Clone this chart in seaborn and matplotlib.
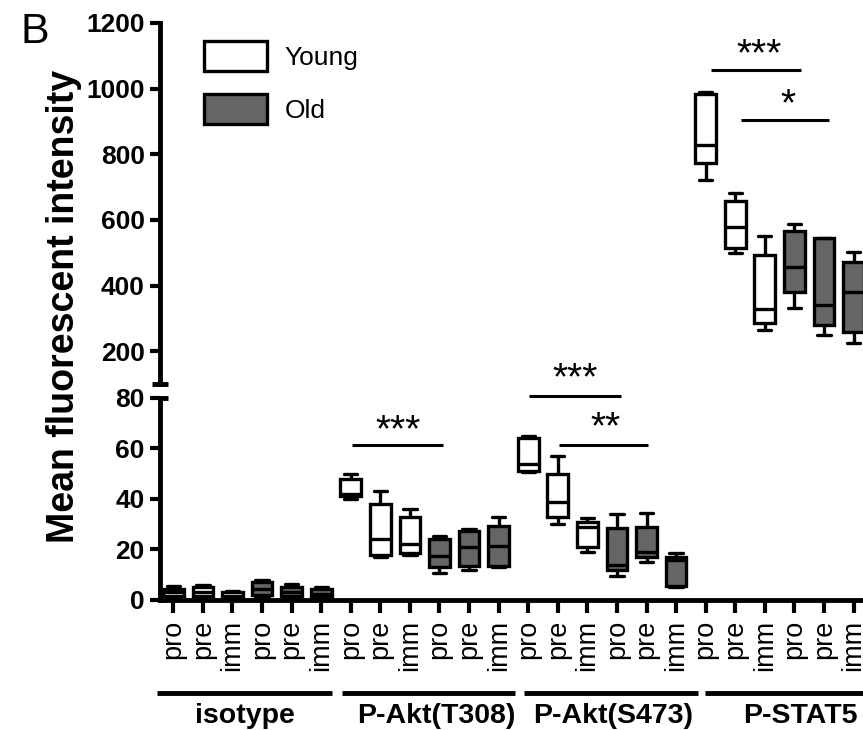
import numpy as np
import pandas as pd
import matplotlib
matplotlib.use("Agg")
import matplotlib.pyplot as plt
import matplotlib.transforms as mtransforms
from matplotlib.patches import Patch
import seaborn as sns

# ---------------- data (five-number summaries) -------------
groups = ["isotype", "P-Akt(T308)", "P-Akt(S473)", "P-STAT5"]
stages = ["pro", "pre", "imm", "pro", "pre", "imm"]
ages = ["Young", "Young", "Young", "Old", "Old", "Old"]

# each row: [min, q1, median, q3, max]
isotype = [[0.8, 1.5, 3.0, 4.5, 5.5],
           [1.0, 1.5, 3.0, 5.0, 6.0],
           [0.5, 0.8, 1.5, 3.0, 3.5],
           [1.0, 2.0, 4.5, 7.0, 8.0],
           [0.8, 1.5, 3.0, 5.0, 6.4],
           [0.8, 1.2, 2.5, 4.2, 5.0]]
akt_t308 = [[40, 41, 42, 48, 50],
            [17, 18, 24, 38, 43],
            [18, 18.5, 22, 33, 36],
            [10.5, 13, 17.5, 24, 25.5],
            [12, 13.5, 21, 27.5, 28],
            [13, 13.5, 21.5, 29.5, 33]]
akt_s473 = [[50.5, 51, 54, 64, 65],
            [30, 33, 39, 50, 57],
            [19, 21, 29, 31, 32.5],
            [9.5, 12, 14, 28.5, 34],
            [15, 17, 19, 29, 34.5],
            [5, 5.5, 16, 17, 18.5]]
stat5 = [[721, 773, 828, 985, 990],
         [498, 514, 578, 657, 682],
         [264, 285, 328, 493, 551],
         [331, 380, 456, 566, 587],
         [249, 279, 340, 544, 545],
         [224, 258, 380, 472, 502]]

# significance annotations: (x_start, x_end, y_line, text, x_text, y_text)
sig_lo = [(6.04, 9.12, 61.2, "***", 7.6, 67.0),
          (12.02, 15.14, 80.8, "***", 13.6, 87.5),
          (13.04, 16.05, 61.2, "**", 14.6, 68.0)]
sig_hi = [(18.18, 21.22, 1057, "***", 19.8, 1102),
          (19.19, 22.17, 904, "*", 20.8, 950)]

# group underline spans (data x units) and label centres
group_spans = [(-0.55, 5.37), (5.70, 11.55), (11.86, 17.74), (17.98, 23.6)]
group_centers = [2.43, 8.88, 14.87, 21.19]

# ---------------- build tidy frame ----------------
rows = []
for g_i, stats in enumerate([isotype, akt_t308, akt_s473, stat5]):
    for b_i, vals in enumerate(stats):
        for v in vals:
            rows.append(dict(pos=g_i * 6 + b_i, value=v, age=ages[b_i]))
df = pd.DataFrame(rows)

sns.set_style("ticks")
plt.rcParams["font.family"] = ["Liberation Sans", "DejaVu Sans"]
for k in ("text.color", "axes.labelcolor", "xtick.color", "ytick.color", "axes.edgecolor"):
    plt.rcParams[k] = "black"

fig = plt.figure(figsize=(8.63, 7.30), dpi=100)
ax_lo = fig.add_axes([0.1854, 0.1781, 0.8146, 0.2767])
ax_hi = fig.add_axes([0.1854, 0.474, 0.8146, 0.4945])

palette = {"Young": "white", "Old": "#656565"}
LW = 2.4
for ax in (ax_lo, ax_hi):
    sns.boxplot(data=df, x="pos", y="value", hue="age", hue_order=["Young", "Old"],
                palette=palette, dodge=False, whis=(0, 100), width=0.7,
                linecolor="black", linewidth=LW, showfliers=False, legend=False,
                saturation=1, ax=ax, capwidths=0.45)
    ax.patch.set_visible(False)
    ax.set_xlim(-0.45, 23.32)
    ax.set_xlabel("")
    ax.set_ylabel("")
    for s in ("top", "right"):
        ax.spines[s].set_visible(False)
    ax.spines["left"].set_linewidth(3.5)
    ax.spines["bottom"].set_linewidth(3.5)
    ax.tick_params(axis="y", direction="out", length=7, width=3, labelsize=19, pad=4)

ax_lo.set_ylim(0, 80)
ax_lo.set_yticks(range(0, 81, 20))
ax_hi.set_ylim(100, 1200)
ax_hi.set_yticks(range(200, 1201, 200))
ax_hi.spines["bottom"].set_visible(False)
ax_hi.set_xticks([])

ax_lo.set_xticks(range(24))
ax_lo.set_xticklabels(stages * 4, rotation=90, fontsize=19.5)
ax_lo.tick_params(axis="x", direction="out", length=9, width=3, pad=5)

for ax in (ax_lo, ax_hi):
    for lab in ax.get_yticklabels():
        lab.set_fontweight("bold")

# axis break marks
ax_hi.plot([-0.011, 0.011], [0, 0], transform=ax_hi.transAxes, color="black",
           lw=3.5, clip_on=False, solid_capstyle="butt")
ax_lo.plot([0, 0.011], [1, 1], transform=ax_lo.transAxes, color="black",
           lw=3.5, clip_on=False, solid_capstyle="butt")

# significance bars
for ax, sigs in ((ax_lo, sig_lo), (ax_hi, sig_hi)):
    for x0, x1, y, txt, xt, yt in sigs:
        ax.plot([x0, x1], [y, y], color="black", lw=2.2, clip_on=False,
                solid_capstyle="butt", zorder=5)
        ax.text(xt, yt, txt, ha="center", va="center", fontsize=28, clip_on=False,
                zorder=5)

# group underlines and labels
trans = mtransforms.blended_transform_factory(ax_lo.transData, ax_lo.transAxes)
for (x0, x1), xc, name in zip(group_spans, group_centers, groups):
    ax_lo.plot([x0, x1], [-0.46, -0.46], transform=trans, color="black", lw=3.5,
               clip_on=False, solid_capstyle="butt")
    ax_lo.text(xc, -0.575, name, transform=trans, ha="center", va="center",
               fontsize=20.5, fontweight="bold", clip_on=False)

# legend
handles = [Patch(facecolor="white", edgecolor="black", lw=LW, label="Young"),
           Patch(facecolor="#656565", edgecolor="black", lw=LW, label="Old")]
fig.legend(handles=handles, loc="upper left", bbox_to_anchor=(204 / 863, 1 - 41 / 730),
           frameon=False, fontsize=19, handlelength=2.4, handleheight=1.35,
           labelspacing=0.9, handletextpad=0.65, borderpad=0, borderaxespad=0)

fig.text(64 / 863, 1 - 306 / 730, "Mean fluorescent intensity", rotation=90,
         ha="center", va="center", fontsize=27, fontweight="bold")
fig.text(20 / 863, 1 - 12 / 730, "B", ha="left", va="top", fontsize=31)

fig.savefig("out.png", dpi=100)
